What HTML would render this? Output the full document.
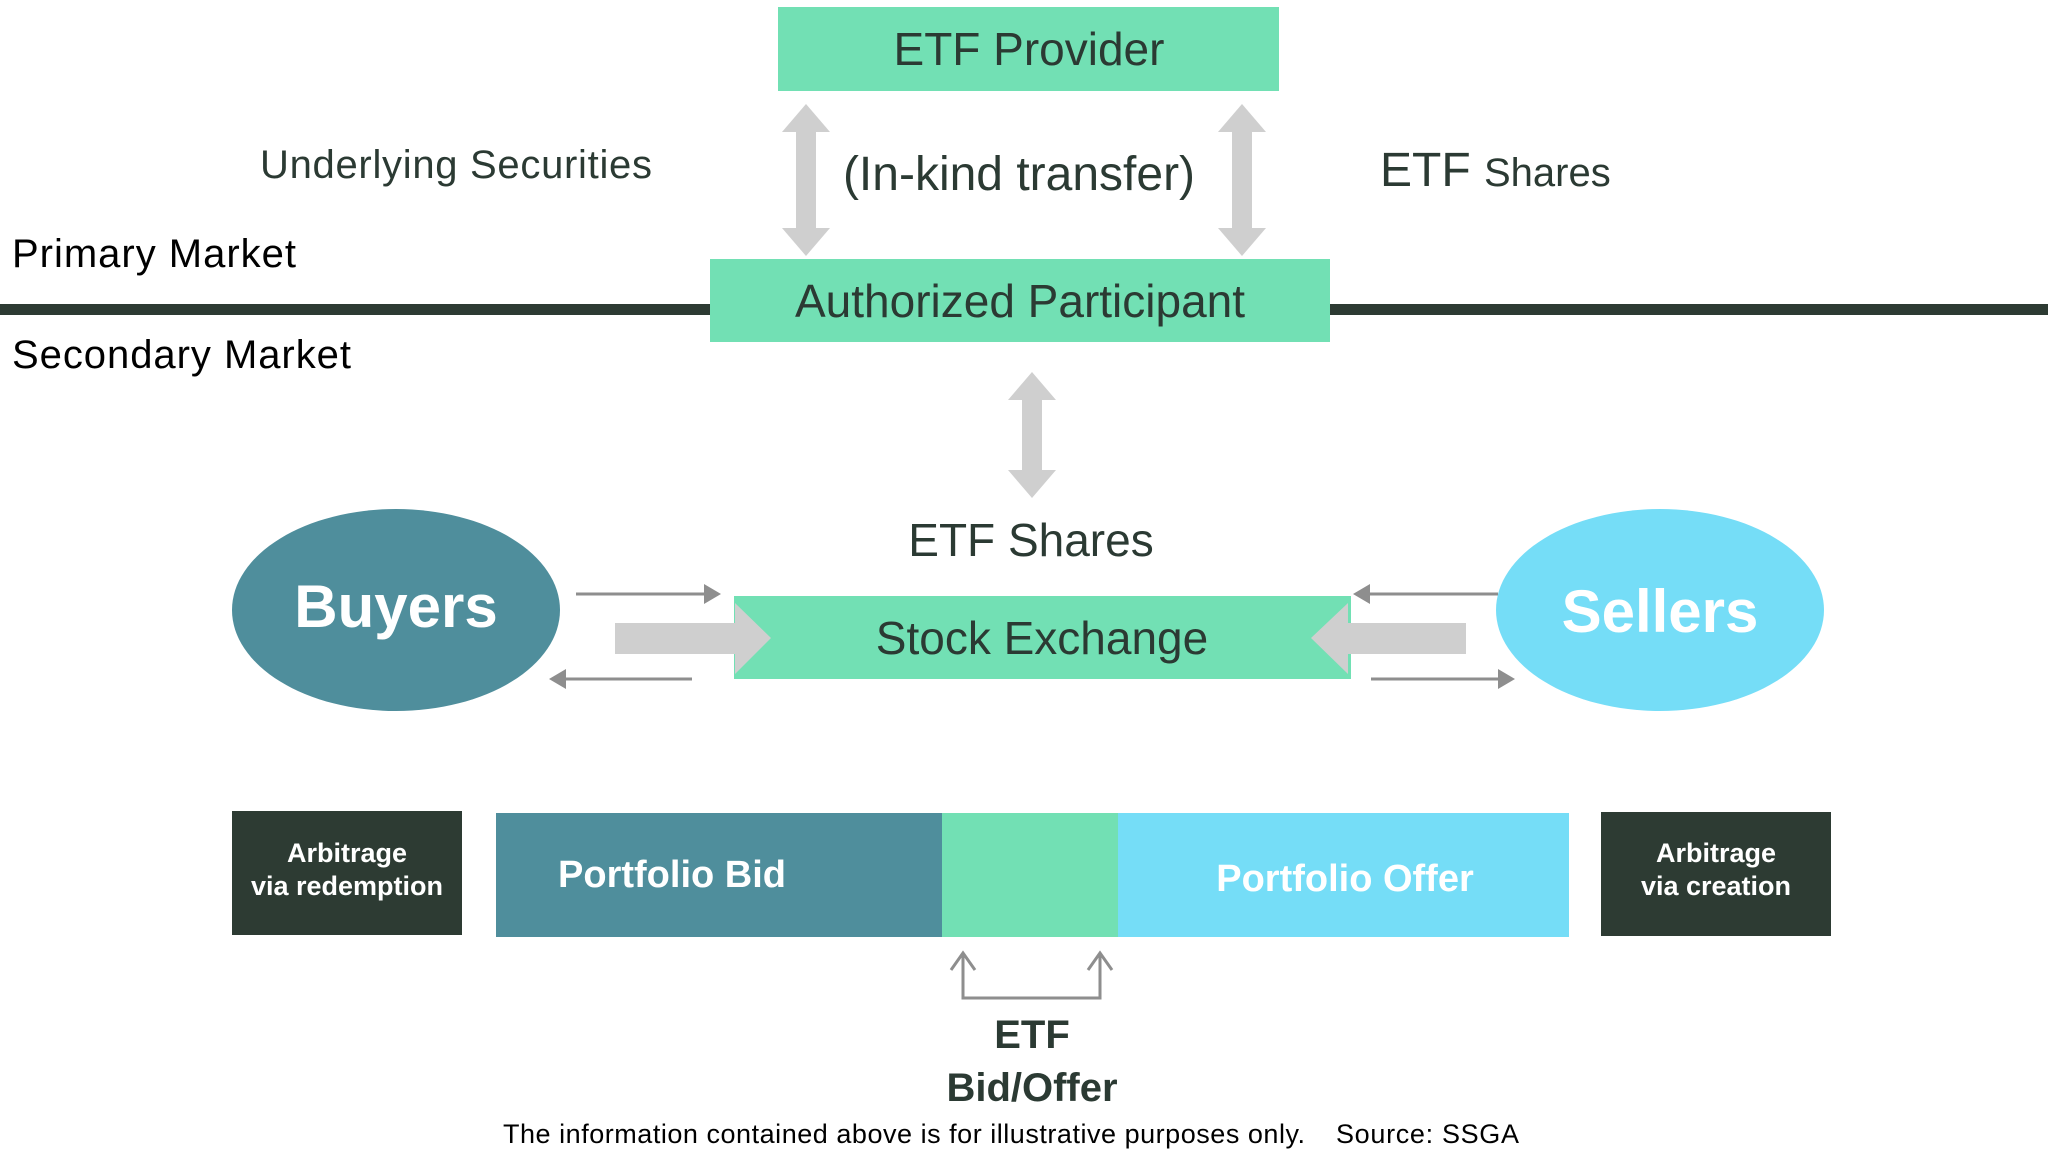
<!DOCTYPE html>
<html><head><meta charset="utf-8"><style>
html,body{margin:0;padding:0;background:#fff}
svg{display:block}
text{font-family:"Liberation Sans",Arial,sans-serif}
</style></head><body>
<svg width="2048" height="1157" viewBox="0 0 2048 1157" xmlns="http://www.w3.org/2000/svg">
<rect x="0" y="304" width="2048" height="11" fill="#2d3b33"/>
<rect x="778" y="7" width="501" height="84" fill="#72e0b4"/>
<text x="1029" y="65" font-size="46" text-anchor="middle" fill="#2b3a33">ETF Provider</text>
<rect x="710" y="259" width="620" height="83" fill="#72e0b4"/>
<text x="1020" y="317" font-size="46" text-anchor="middle" fill="#2b3a33">Authorized Participant</text>
<g fill="#cfcfcf">
<path d="M806,104 L830,132 L816,132 L816,228 L830,228 L806,256 L782,228 L796,228 L796,132 L782,132 Z"/>
<path d="M1242,104 L1266,132 L1252,132 L1252,228 L1266,228 L1242,256 L1218,228 L1232,228 L1232,132 L1218,132 Z"/>
<path d="M1032,372 L1056,400 L1042,400 L1042,470 L1056,470 L1032,498 L1008,470 L1022,470 L1022,400 L1008,400 Z"/>
</g>
<text x="456" y="178" font-size="40" text-anchor="middle" fill="#2b3a33" textLength="392">Underlying Securities</text>
<text x="1019" y="190" font-size="48" text-anchor="middle" fill="#2b3a33">(In-kind transfer)</text>
<text x="1380" y="186" font-size="48" fill="#2b3a33">ETF <tspan font-size="40">Shares</tspan></text>
<text x="12" y="267" font-size="40" fill="#000" textLength="284">Primary Market</text>
<text x="12" y="368" font-size="40" fill="#000" textLength="339">Secondary Market</text>
<ellipse cx="396" cy="610" rx="164" ry="101" fill="#4f8e9c"/>
<text x="396" y="627" font-size="60" font-weight="bold" text-anchor="middle" fill="#fff">Buyers</text>
<ellipse cx="1660" cy="610" rx="164" ry="101" fill="#75ddf7"/>
<text x="1660" y="632" font-size="60" font-weight="bold" text-anchor="middle" fill="#fff">Sellers</text>
<text x="1031" y="556" font-size="46" text-anchor="middle" fill="#2b3a33">ETF Shares</text>
<rect x="734" y="596" width="617" height="83" fill="#72e0b4"/>
<g fill="#cfcfcf">
<path d="M615,623 L735,623 L735,603 L771,638 L735,674 L735,654 L615,654 Z"/>
<path d="M1466,623 L1348,623 L1348,603 L1311,638 L1348,674 L1348,654 L1466,654 Z"/>
</g>
<text x="1042" y="654" font-size="46" text-anchor="middle" fill="#2b3a33">Stock Exchange</text>
<g stroke="#8e8e8e" stroke-width="3" fill="#8e8e8e">
<line x1="576" y1="594" x2="706" y2="594"/><path d="M721,594 L704,584 L704,604 Z" stroke="none"/>
<line x1="692" y1="679" x2="564" y2="679"/><path d="M549,679 L566,669 L566,689 Z" stroke="none"/>
<line x1="1498" y1="594" x2="1368" y2="594"/><path d="M1353,594 L1370,584 L1370,604 Z" stroke="none"/>
<line x1="1371" y1="679" x2="1500" y2="679"/><path d="M1515,679 L1498,669 L1498,689 Z" stroke="none"/>
</g>
<rect x="232" y="811" width="230" height="124" fill="#2d3b33"/>
<text x="347" y="862" font-size="27" font-weight="bold" text-anchor="middle" fill="#fff">Arbitrage</text>
<text x="347" y="895" font-size="27" font-weight="bold" text-anchor="middle" fill="#fff">via redemption</text>
<rect x="496" y="813" width="447" height="124" fill="#4f8e9c"/>
<rect x="942" y="813" width="177" height="124" fill="#72e0b4"/>
<rect x="1118" y="813" width="451" height="124" fill="#75ddf7"/>
<text x="672" y="887" font-size="38" font-weight="bold" text-anchor="middle" fill="#fff">Portfolio Bid</text>
<text x="1345" y="891" font-size="38" font-weight="bold" text-anchor="middle" fill="#fff">Portfolio Offer</text>
<rect x="1601" y="812" width="230" height="124" fill="#2d3b33"/>
<text x="1716" y="862" font-size="27" font-weight="bold" text-anchor="middle" fill="#fff">Arbitrage</text>
<text x="1716" y="895" font-size="27" font-weight="bold" text-anchor="middle" fill="#fff">via creation</text>
<g stroke="#8e8e8e" stroke-width="3" fill="none">
<path d="M963,955 L963,998 L1100,998 L1100,955"/>
<path d="M951,970 L963,953 L975,970"/>
<path d="M1088,970 L1100,953 L1112,970"/>
</g>
<text x="1032" y="1048" font-size="40" font-weight="bold" text-anchor="middle" fill="#2b3a33">ETF</text>
<text x="1032" y="1101" font-size="40" font-weight="bold" text-anchor="middle" fill="#2b3a33">Bid/Offer</text>
<text x="503" y="1143" font-size="27" fill="#000" textLength="802">The information contained above is for illustrative purposes only.</text>
<text x="1336" y="1143" font-size="27" fill="#000" textLength="183">Source: SSGA</text>
</svg>
</body></html>
